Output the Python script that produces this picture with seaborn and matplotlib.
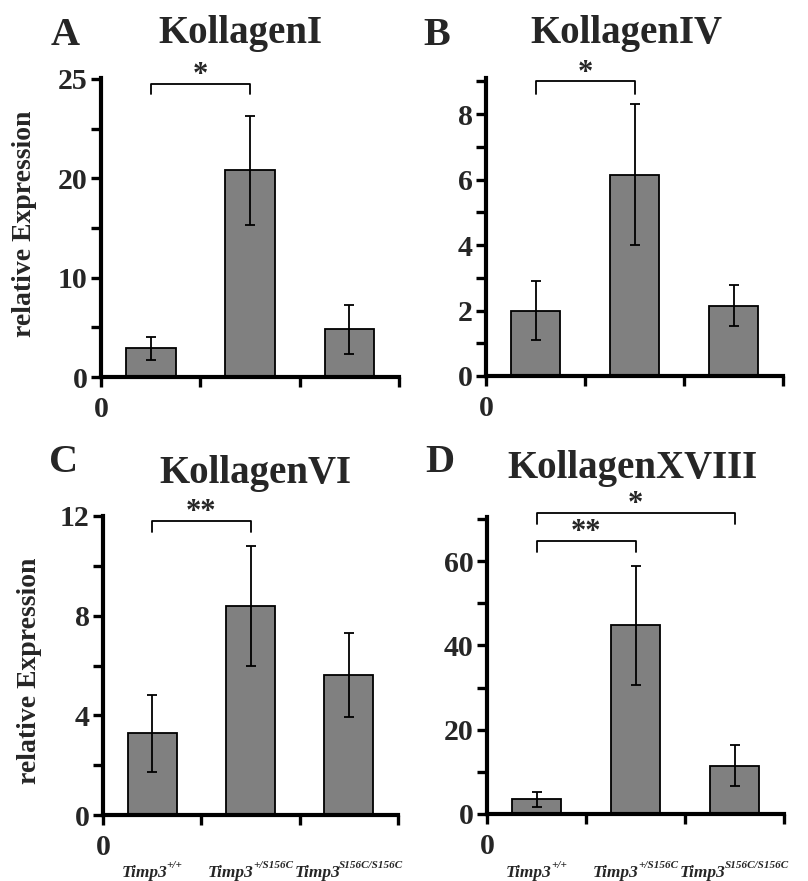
import matplotlib
matplotlib.use("Agg")
import matplotlib.pyplot as plt
import seaborn as sns
import numpy as np

# ---- data -------------------------------------------------------------
genotypes = ["Timp3+/+", "Timp3+/S156C", "Timp3S156C/S156C"]
genotype_base = "Timp3"
genotype_sup = ["+/+", "+/S156C", "S156C/S156C"]

titles = ["KollagenI", "KollagenIV", "KollagenVI", "KollagenXVIII"]
panel_letters = ["A", "B", "C", "D"]

kol1_mean = [2.9, 20.8, 4.8]
kol1_err = [1.16, 5.5, 2.45]
kol4_mean = [2.0, 6.15, 2.15]
kol4_err = [0.9, 2.15, 0.63]
kol6_mean = [3.28, 8.39, 5.62]
kol6_err = [1.55, 2.42, 1.7]
kol18_mean = [3.5, 44.8, 11.5]
kol18_err = [1.8, 14.1, 4.9]

# y-axis: limits, labelled ticks, tick texts, minor ticks
kol1_ylim = 30.1
kol1_major = [0, 10, 20, 30]
kol1_major_labels = ["0", "10", "20", "25"]
kol1_minor = [5, 15, 25]

kol4_ylim = 9.1
kol4_major = [0, 2, 4, 6, 8]
kol4_major_labels = ["0", "2", "4", "6", "8"]
kol4_minor = [1, 3, 5, 7, 9]

kol6_ylim = 12.0
kol6_major = [0, 4, 8, 12]
kol6_major_labels = ["0", "4", "8", "12"]
kol6_minor = [2, 6, 10]

kol18_ylim = 70.5
kol18_major = [0, 20, 40, 60]
kol18_major_labels = ["0", "20", "40", "60"]
kol18_minor = [10, 30, 50, 70]

# significance brackets: (from group, to group, bracket height, leg end, stars)
kol1_sig = [(0, 1, 29.5, 28.45, "*")]
kol4_sig = [(0, 1, 9.0, 8.62, "*")]
kol6_sig = [(0, 1, 11.8, 11.34, "**")]
kol18_sig = [(0, 1, 64.9, 62.2, "**"), (0, 2, 71.4, 68.9, "*")]

# ---- style ------------------------------------------------------------
sns.set_theme(style="ticks")
plt.rcParams["font.family"] = ["Liberation Serif", "DejaVu Serif"]
plt.rcParams["font.weight"] = "bold"

W, H = 808, 881
fig = plt.figure(figsize=(W / 100, H / 100), dpi=100)
renderer = fig.canvas.get_renderer()


def px_axes(left, right, top, bottom):
    return fig.add_axes([left / W, 1 - bottom / H, (right - left) / W, (bottom - top) / H])


panels = [
    dict(rect=(101, 399, 78, 377), mean=kol1_mean, err=kol1_err, ylim=kol1_ylim,
         major=kol1_major, labels=kol1_major_labels, minor=kol1_minor, sig=kol1_sig,
         title=(240, 43), letter=(65, 45), ylabel=(25, 224), xlabels=False),
    dict(rect=(486, 783, 78, 376), mean=kol4_mean, err=kol4_err, ylim=kol4_ylim,
         major=kol4_major, labels=kol4_major_labels, minor=kol4_minor, sig=kol4_sig,
         title=(626, 43), letter=(437, 45), ylabel=None, xlabels=False),
    dict(rect=(103, 398, 516, 815), mean=kol6_mean, err=kol6_err, ylim=kol6_ylim,
         major=kol6_major, labels=kol6_major_labels, minor=kol6_minor, sig=kol6_sig,
         title=(255, 483), letter=(64, 472), ylabel=(30, 671), xlabels=True),
    dict(rect=(487, 784, 517, 814), mean=kol18_mean, err=kol18_err, ylim=kol18_ylim,
         major=kol18_major, labels=kol18_major_labels, minor=kol18_minor, sig=kol18_sig,
         title=(632, 478), letter=(440, 472), ylabel=None, xlabels=True),
]

bar_gray = "#808080"

for i, p in enumerate(panels):
    ax = px_axes(*p["rect"])
    sns.barplot(x=genotypes, y=p["mean"], ax=ax, color=bar_gray, saturation=1,
                edgecolor="black", linewidth=1.3, width=0.5, errorbar=None, zorder=2)
    ax.errorbar(x=np.arange(3), y=p["mean"], yerr=p["err"], fmt="none",
                ecolor="black", elinewidth=1.3, capsize=3.8, capthick=1.3, zorder=3)

    ax.set_xlim(-0.5, 2.5)
    ax.set_ylim(0, p["ylim"])
    ax.set_xticks([-0.5, 0.5, 1.5, 2.5], ["0", "", "", ""])
    ax.set_yticks(p["major"], p["labels"])
    ax.set_yticks(p["minor"], minor=True)
    ax.set_xlabel("")
    ax.set_ylabel("")

    for side in ("top", "right"):
        ax.spines[side].set_visible(False)
    for side in ("left", "bottom"):
        ax.spines[side].set_linewidth(3.0)
        ax.spines[side].set_color("black")
    ax.tick_params(axis="y", which="both", direction="out", length=7.5, width=2.4,
                   color="black", labelsize=21.5, pad=2)
    ax.tick_params(axis="x", which="major", direction="out", length=7.5, width=2.4,
                   color="black", labelsize=21.5, pad=6)
    for lab in ax.get_yticklabels() + ax.get_xticklabels():
        lab.set_fontweight("bold")

    # significance brackets
    for g1, g2, yb, yl, stars in p["sig"]:
        ax.plot([g1, g1, g2, g2], [yl, yb, yb, yl], color="black", lw=1.3,
                clip_on=False, zorder=4)
        ax.annotate(stars, xy=((g1 + g2) / 2, yb), xytext=(0, -4.5), textcoords="offset points",
                    ha="center", va="bottom", fontsize=22, fontweight="bold",
                    annotation_clip=False)

    # genotype labels (base name + superscript allele) under the bottom row
    if p["xlabels"]:
        base_y = 877
        gap = -1
        for k, sup in enumerate(genotype_sup):
            t1 = fig.text(0, 1 - base_y / H, genotype_base, ha="left", va="baseline",
                          fontsize=12.5, fontstyle="italic", fontweight="bold")
            t2 = fig.text(0, 1 - (base_y - 9) / H, sup, ha="left", va="baseline",
                          fontsize=8, fontstyle="italic", fontweight="bold")
            w1 = t1.get_window_extent(renderer).width
            w2 = t2.get_window_extent(renderer).width
            cx = ax.transData.transform((k, 0))[0]
            left = cx - (w1 + w2 + gap) / 2
            t1.set_x(left / W)
            t2.set_x((left + w1 + gap) / W)

    tx, ty = p["title"]
    fig.text(tx / W, 1 - ty / H, titles[i], ha="center", va="baseline",
             fontsize=28, fontweight="bold")
    lx, ly = p["letter"]
    fig.text(lx / W, 1 - ly / H, panel_letters[i], ha="center", va="baseline",
             fontsize=29, fontweight="bold")
    if p["ylabel"] is not None:
        yx, yy = p["ylabel"]
        fig.text(yx / W, 1 - yy / H, "relative Expression", rotation=90,
                 ha="center", va="center", fontsize=20, fontweight="bold")

fig.savefig("out.png", dpi=100, facecolor="white")
